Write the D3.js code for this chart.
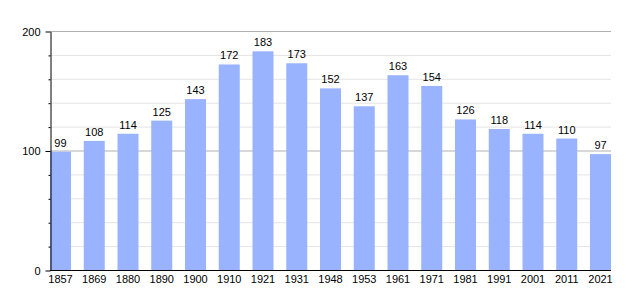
<!DOCTYPE html>
<html><head><meta charset="utf-8">
<script src="https://cdn.jsdelivr.net/npm/d3@7"></script>
<style>body{margin:0;background:#fff}text{font-family:"Liberation Sans",Arial,sans-serif}</style>
</head><body><svg id="c" width="640" height="300"></svg>
<script>
const years = ["1857","1869","1880","1890","1900","1910","1921","1931","1948","1953","1961","1971","1981","1991","2001","2011","2021"];
const population = [99,108,114,125,143,172,183,173,152,137,163,154,126,118,114,110,97];
const majorTicks = [0,100,200];
const minorTicks = [20,40,60,80,120,140,160,180];

const svg = d3.select("#c");
const x = d3.scaleBand().domain(years).range([50,611]).paddingInner(0.378).paddingOuter(0);
const y = d3.scaleLinear().domain([0,200]).range([270,31]);

// minor gridlines
svg.selectAll("line.minor").data(minorTicks).join("line")
  .attr("x1",50).attr("x2",611).attr("y1",d=>y(d)+0.5).attr("y2",d=>y(d)+0.5)
  .attr("stroke","#e4e4e4").attr("stroke-width",1);
// major gridlines
svg.selectAll("line.major").data(majorTicks.filter(d=>d>0)).join("line")
  .attr("x1",50).attr("x2",611).attr("y1",d=>y(d)+0.5).attr("y2",d=>y(d)+0.5)
  .attr("stroke","#b0b0b0").attr("stroke-width",1);

// bars
svg.selectAll("rect.bar").data(population).join("rect")
  .attr("x",(d,i)=>x(years[i])).attr("width",x.bandwidth())
  .attr("y",d=>y(d)).attr("height",d=>y(0)-y(d))
  .attr("fill","#99b3ff");

// value labels
svg.selectAll("text.val").data(population).join("text")
  .attr("x",(d,i)=>x(years[i])+x.bandwidth()/2).attr("y",d=>y(d)-5)
  .attr("text-anchor","middle").attr("font-size",11).attr("fill","#000")
  .text(d=>d);

// y axis (minor ticks)
const gyMinor = svg.append("g").attr("transform","translate(50.5,0.5)")
  .call(d3.axisLeft(y).tickValues(minorTicks).tickSize(2).tickFormat(""));
gyMinor.select(".domain").remove();
gyMinor.selectAll(".tick line").attr("stroke","#000");

// y axis (major ticks)
const gy = svg.append("g").attr("transform","translate(50.5,0.5)")
  .call(d3.axisLeft(y).tickValues(majorTicks).tickSize(5).tickSizeOuter(0).tickPadding(5));
gy.select(".domain").attr("stroke","#000");
gy.selectAll(".tick line").attr("stroke","#000");
gy.selectAll(".tick text").attr("font-size",11).attr("font-family","Liberation Sans, Arial, sans-serif").attr("fill","#000");

// x axis
const xAxis = d3.axisBottom(x).tickSize(0).tickPadding(5);
const gx = svg.append("g").attr("transform","translate(0,270.5)").call(xAxis);
gx.select(".domain").attr("stroke","#000").attr("d","M50,0H611");
gx.selectAll(".tick text").attr("font-size",11).attr("font-family","Liberation Sans, Arial, sans-serif").attr("fill","#000");
</script></body></html>
